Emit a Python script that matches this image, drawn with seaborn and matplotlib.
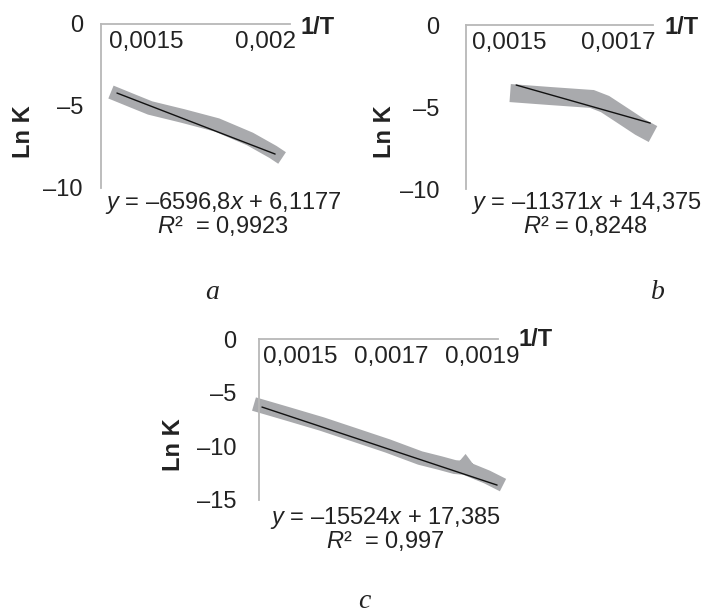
import matplotlib
matplotlib.use("Agg")
import matplotlib.pyplot as plt
import seaborn as sns
import numpy as np

# ---------------- data ----------------
# panel a
a_x = [0.001354, 0.001446, 0.001517, 0.001654, 0.001796, 0.001933, 0.002029, 0.002067]
a_y = [-4.15, -4.70, -5.12, -5.61, -6.16, -7.01, -7.80, -8.17]
a_trend_x = [0.001379, 0.002038]
a_trend_y = [-4.21, -7.93]
a_xticks = [0.0015, 0.002]
a_xticklabels = ["0,0015", "0,002"]
a_yticks = [0, -5, -10]
a_yticklabels = ["0", "–5", "–10"]
a_eq = "$y$ = –6596,8$x$ + 6,1177"
a_r2 = "$R$²  = 0,9923"

# panel b
b_x = [0.001502, 0.001575, 0.001652, 0.001676, 0.001704, 0.001740, 0.001764]
b_y = [-4.15, -4.33, -4.51, -4.82, -5.43, -6.22, -6.65]
b_trend_x = [0.001513, 0.001759]
b_trend_y = [-3.66, -5.98]
b_xticks = [0.0015, 0.0017]
b_xticklabels = ["0,0015", "0,0017"]
b_yticks = [0, -5, -10]
b_yticklabels = ["0", "–5", "–10"]
b_eq = "$y$ = –11371$x$ + 14,375"
b_r2 = "$R$² = 0,8248"

# panel c
c_x = [0.001399, 0.001474, 0.001548, 0.001621, 0.001693, 0.001764, 0.001808,
       0.001840, 0.001858, 0.001863, 0.001870, 0.001911, 0.001946]
c_y = [-6.06, -6.99, -7.92, -8.95, -9.97, -11.09, -11.56,
       -11.93, -12.00, -11.75, -12.15, -12.86, -13.61]
c_trend_x = [0.0014165, 0.001933]
c_trend_y = [-6.34, -13.61]
c_xticks = [0.0015, 0.0017, 0.0019]
c_xticklabels = ["0,0015", "0,0017", "0,0019"]
c_yticks = [0, -5, -10, -15]
c_yticklabels = ["0", "–5", "–10", "–15"]
c_eq = "$y$ = –15524$x$ + 17,385"
c_r2 = "$R$²  = 0,997"

# ---------------- style ----------------
sns.set_theme(style="white")
plt.rcParams["font.family"] = ["Liberation Sans", "DejaVu Sans"]
plt.rcParams["mathtext.fontset"] = "custom"
plt.rcParams["mathtext.rm"] = "Liberation Sans"
plt.rcParams["mathtext.it"] = "Liberation Sans:italic"
plt.rcParams["mathtext.bf"] = "Liberation Sans:bold"

FS = 17
FS_X = 17.5
BAND = "#a9aaad"
SPINE = "#b8b8b8"
TXT = "#222222"

W, H = 706, 615
fig = plt.figure(figsize=(W / 100, H / 100), dpi=100)


def px_axes(l, t, r, b):
    return fig.add_axes([l / W, 1 - b / H, (r - l) / W, (b - t) / H])


def style(ax, xlim, ylim, xt, xtl, yt, ytl, ypad):
    ax.set_xlim(*xlim)
    ax.set_ylim(*ylim)
    for s in ["bottom", "right"]:
        ax.spines[s].set_visible(False)
    for s in ["top", "left"]:
        ax.spines[s].set_visible(True)
        ax.spines[s].set_color(SPINE)
        ax.spines[s].set_linewidth(1.3)
    ax.xaxis.set_ticks_position("top")
    ax.set_xticks(xt)
    ax.set_xticklabels(xtl)
    ax.set_yticks(yt)
    ax.set_yticklabels(ytl)
    ax.tick_params(axis="x", length=0, pad=-5, labelsize=FS_X, colors=TXT)
    ax.tick_params(axis="y", length=0, pad=ypad, labelsize=FS, colors=TXT)
    for lab in ax.get_xticklabels():
        lab.set_verticalalignment("top")
    ax.set_xlabel("")
    ax.set_ylabel("")
    ax.set_facecolor("none")


def draw(ax, x, y, tx, ty, lw):
    sns.lineplot(x=x, y=y, ax=ax, color=BAND, lw=lw, sort=False,
                 estimator=None, clip_on=False, solid_capstyle="butt",
                 solid_joinstyle="miter")
    sns.lineplot(x=tx, y=ty, ax=ax, color="#111111", lw=1.0, sort=False,
                 estimator=None, clip_on=False)


# panel a
ax_a = px_axes(101, 24, 290, 188)
draw(ax_a, a_x, a_y, a_trend_x, a_trend_y, 10.0)
style(ax_a, (0.0013125, 0.0021), (-10, 0), a_xticks, a_xticklabels,
      a_yticks, a_yticklabels, 13)

# panel b
ax_b = px_axes(466, 25, 653, 189)
draw(ax_b, b_x, b_y, b_trend_x, b_trend_y, 13.0)
style(ax_b, (0.001421, 0.001764), (-10, 0), b_xticks, b_xticklabels,
      b_yticks, b_yticklabels, 19)

# panel c
ax_c = px_axes(259, 339, 498, 500)
draw(ax_c, c_x, c_y, c_trend_x, c_trend_y, 10.0)
style(ax_c, (0.00141, 0.001935), (-15, 0), c_xticks, c_xticklabels,
      c_yticks, c_yticklabels, 16.5)


def ftext(x, y, s, **kw):
    fig.text(x / W, 1 - y / H, s, ha="center", va="center", **kw)


# axis titles
for (x, y) in [(318, 27), (682, 28), (536, 340)]:
    ftext(x, y, "1/T", fontsize=FS, fontweight="bold", color=TXT)
for (x, y) in [(24, 132), (384, 132), (173, 445)]:
    ftext(x, y, "Ln K", fontsize=FS, fontweight="bold", rotation=90, color=TXT)

# equations (two lines per panel in one text block)
for (x, y, eq, r2) in [(223, 214, a_eq, a_r2), (586, 214, b_eq, b_r2),
                       (385, 529, c_eq, c_r2)]:
    ftext(x, y, eq + "\n" + r2, fontsize=FS, color=TXT,
          multialignment="center", linespacing=0.9)

# panel letters
for (x, y, s) in [(212, 292, "a"), (658, 292, "b"), (364, 602, "c")]:
    ftext(x, y, s, fontsize=20, fontstyle="italic", family="Liberation Serif",
          color=TXT)

fig.savefig("out.png", dpi=100)
